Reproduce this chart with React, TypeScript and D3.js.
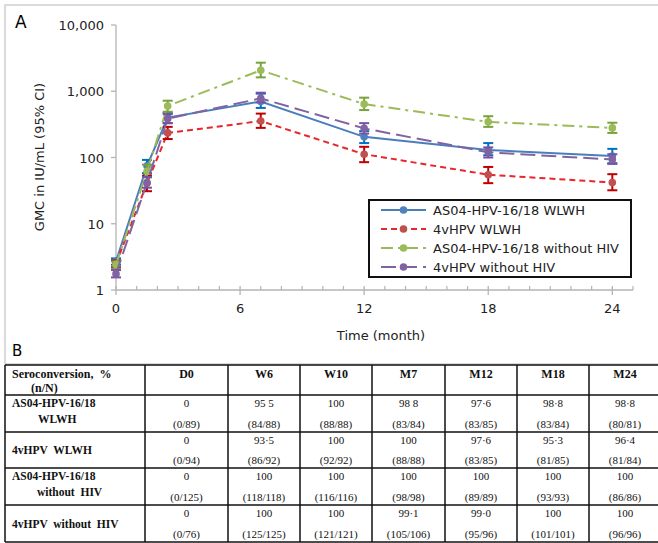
import React from "react";
import * as d3 from "d3";

// panel A: GMC by visit
const months = [0, 1.5, 2.5, 7, 12, 18, 24];
const seriesNames = [
  "AS04-HPV-16/18 WLWH",
  "4vHPV WLWH",
  "AS04-HPV-16/18 without HIV",
  "4vHPV without HIV",
];
const gmcAs04Wlwh = [2.7, 75, 400, 700, 205, 130, 105];
const lowAs04Wlwh = [2.4, 58, 330, 560, 165, 108, 82];
const highAs04Wlwh = [3.0, 92, 470, 920, 250, 165, 135];
const gmc4vWlwh = [2.5, 41, 235, 355, 112, 55, 42];
const low4vWlwh = [2.2, 31, 190, 280, 85, 41, 32];
const high4vWlwh = [2.8, 53, 290, 460, 145, 72, 56];
const gmcAs04Neg = [2.4, 62, 600, 2070, 640, 345, 280];
const lowAs04Neg = [2.1, 50, 490, 1620, 520, 290, 235];
const highAs04Neg = [2.7, 78, 720, 2700, 800, 420, 335];
const gmc4vNeg = [1.75, 42, 385, 780, 275, 120, 93];
const low4vNeg = [1.55, 35, 330, 680, 230, 100, 80];
const high4vNeg = [2.0, 51, 450, 950, 330, 142, 112];
const yTicks = [1, 10, 100, 1000, 10000];
const xTicks = [0, 6, 12, 18, 24];

// panel B: seroconversion table
const tableHeader = ["D0", "W6", "W10", "M7", "M12", "M18", "M24"];
const rowLabels = [
  ["AS04-HPV-16/18", "WLWH"],
  ["4vHPV \u00a0WLWH"],
  ["AS04-HPV-16/18", "without \u00a0HIV"],
  ["4vHPV \u00a0without \u00a0HIV"],
];
const pctAs04Wlwh = ["0", "95 5", "100", "98 8", "97·6", "98·8", "98·8"];
const nAs04Wlwh = ["(0/89)", "(84/88)", "(88/88)", "(83/84)", "(83/85)", "(83/84)", "(80/81)"];
const pct4vWlwh = ["0", "93·5", "100", "100", "97·6", "95·3", "96·4"];
const n4vWlwh = ["(0/94)", "(86/92)", "(92/92)", "(88/88)", "(83/85)", "(81/85)", "(81/84)"];
const pctAs04Neg = ["0", "100", "100", "100", "100", "100", "100"];
const nAs04Neg = ["(0/125)", "(118/118)", "(116/116)", "(98/98)", "(89/89)", "(93/93)", "(86/86)"];
const pct4vNeg = ["0", "100", "100", "99·1", "99·0", "100", "100"];
const n4vNeg = ["(0/76)", "(125/125)", "(121/121)", "(105/106)", "(95/96)", "(101/101)", "(96/96)"];

const series = [
  { name: seriesNames[0], gmc: gmcAs04Wlwh, low: lowAs04Wlwh, high: highAs04Wlwh, line: "#4a7ebb", marker: "#4f81bd", err: "#0070c0", dash: "none" },
  { name: seriesNames[1], gmc: gmc4vWlwh, low: low4vWlwh, high: high4vWlwh, line: "#e8262b", marker: "#c0504d", err: "#c00000", dash: "6,4" },
  { name: seriesNames[2], gmc: gmcAs04Neg, low: lowAs04Neg, high: highAs04Neg, line: "#9bbb59", marker: "#9bbb59", err: "#77a23c", dash: "12,5,3,5" },
  { name: seriesNames[3], gmc: gmc4vNeg, low: low4vNeg, high: high4vNeg, line: "#8064a2", marker: "#8064a2", err: "#7a4fa8", dash: "15,6" },
];
const tableRows = [
  { label: rowLabels[0], pct: pctAs04Wlwh, n: nAs04Wlwh },
  { label: rowLabels[1], pct: pct4vWlwh, n: n4vWlwh },
  { label: rowLabels[2], pct: pctAs04Neg, n: nAs04Neg },
  { label: rowLabels[3], pct: pct4vNeg, n: n4vNeg },
];

const sans = "DejaVu Sans";
const serif = "Liberation Serif";

export default function App() {
  const x = d3.scaleLinear().domain([0, 25]).range([116, 633]);
  const y = d3.scaleLog().domain([1, 10000]).range([290, 25]);
  const axisColor = "#b4b4b4";
  const y0 = y(1);

  const line = d3
    .line<number>()
    .x((_, i) => x(months[i]))
    .y((d) => y(d));

  // table geometry
  const colEdges = [5, 145, 228, 300, 372, 445, 517, 589, 661];
  const rowEdges = [365, 395, 432, 468, 505, 542];

  const minor = d3.range(1, 26).filter((m) => m % 6 !== 0);

  return (
    <svg
      width={658}
      height={543}
      style={{ position: "absolute", left: 0, top: 0, background: "#fff" }}
    >
      {/* panel A frame */}
      <rect x={5} y={5} width={680} height={359} fill="none" stroke="#cfcfcf" strokeWidth={1.5} />
      <text x={15} y={28} fontFamily={sans} fontSize={17}>A</text>

      {/* y axis */}
      <line x1={x(0)} x2={x(0)} y1={y(10000)} y2={y0} stroke={axisColor} strokeWidth={1.3} />
      {yTicks.map((t) => (
        <g key={t}>
          <line x1={x(0) - 5} x2={x(0)} y1={y(t)} y2={y(t)} stroke={axisColor} strokeWidth={1.3} />
          <text x={104} y={y(t) + 5} textAnchor="end" fontFamily={sans} fontSize={13} fill="#222">
            {d3.format(",")(t)}
          </text>
        </g>
      ))}
      <text
        transform={`translate(44,157) rotate(-90)`}
        textAnchor="middle"
        fontFamily={sans}
        fontSize={13}
        fill="#222"
      >
        GMC in IU/mL (95% CI)
      </text>

      {/* x axis */}
      <line x1={x(0)} x2={x(25)} y1={y0} y2={y0} stroke={axisColor} strokeWidth={1.3} />
      {minor.map((m) => (
        <line key={m} x1={x(m)} x2={x(m)} y1={y0 - 4} y2={y0} stroke={axisColor} strokeWidth={1.2} />
      ))}
      {xTicks.map((t) => (
        <g key={t}>
          <line x1={x(t)} x2={x(t)} y1={y0 - 4} y2={y0 + 5} stroke={axisColor} strokeWidth={1.3} />
          <text x={x(t)} y={313} textAnchor="middle" fontFamily={sans} fontSize={13} fill="#222">
            {t}
          </text>
        </g>
      ))}
      <text x={381} y={340} textAnchor="middle" fontFamily={sans} fontSize={13} fill="#222">
        Time (month)
      </text>

      {/* series */}
      {series.map((s) => (
        <g key={s.name}>
          <path d={line(s.gmc) || ""} fill="none" stroke={s.line} strokeWidth={2} strokeDasharray={s.dash} />
          {s.gmc.map((v, i) => (
            <g key={i} stroke={s.err} strokeWidth={2}>
              <line x1={x(months[i])} x2={x(months[i])} y1={y(s.low[i])} y2={y(s.high[i])} />
              <line x1={x(months[i]) - 5} x2={x(months[i]) + 5} y1={y(s.low[i])} y2={y(s.low[i])} />
              <line x1={x(months[i]) - 5} x2={x(months[i]) + 5} y1={y(s.high[i])} y2={y(s.high[i])} />
            </g>
          ))}
          {s.gmc.map((v, i) => (
            <circle key={i} cx={x(months[i])} cy={y(v)} r={3.8} fill={s.marker} />
          ))}
        </g>
      ))}

      {/* legend */}
      <rect x={369} y={200} width={262} height={77} fill="#fff" stroke="#111" strokeWidth={2} />
      {series.map((s, i) => {
        const ly = 210 + i * 19;
        return (
          <g key={s.name}>
            <line x1={381} x2={426} y1={ly} y2={ly} stroke={s.line} strokeWidth={2} strokeDasharray={s.dash} />
            <circle cx={403.5} cy={ly} r={3.8} fill={s.marker} />
            <text x={433} y={ly + 5} fontFamily={sans} fontSize={13} fill="#222">
              {s.name}
            </text>
          </g>
        );
      })}

      <text x={12} y={356} fontFamily={sans} fontSize={15}>B</text>

      {/* table */}
      <g fontFamily={serif} fill="#111">
        {rowEdges.map((ry, i) => (
          <line key={"h" + i} x1={colEdges[0]} x2={colEdges[colEdges.length - 1]} y1={ry} y2={ry} stroke="#111" strokeWidth={1.5} />
        ))}
        {colEdges.map((cx, i) => (
          <line key={"v" + i} x1={cx} x2={cx} y1={rowEdges[0]} y2={rowEdges[rowEdges.length - 1]} stroke="#111" strokeWidth={1.5} />
        ))}
        <text x={12} y={378} fontSize={12} fontWeight="bold">{"Seroconversion, \u00a0%"}</text>
        <text x={31} y={392} fontSize={12} fontWeight="bold">(n/N)</text>
        {tableHeader.map((h, j) => (
          <text key={h} x={(colEdges[j + 1] + colEdges[j + 2]) / 2} y={378} textAnchor="middle" fontSize={12} fontWeight="bold">
            {h}
          </text>
        ))}
        {tableRows.map((r, i) => {
          const top = rowEdges[i + 1];
          const bottom = rowEdges[i + 2];
          return (
            <g key={i}>
              {r.label.length === 1 ? (
                <text x={12} y={(top + bottom) / 2 + 4} fontSize={11.5} fontWeight="bold">{r.label[0]}</text>
              ) : (
                <>
                  <text x={12} y={top + 12} fontSize={11.5} fontWeight="bold">{r.label[0]}</text>
                  <text x={i === 0 ? 38 : 37} y={top + 28} fontSize={11.5} fontWeight="bold">{r.label[1]}</text>
                </>
              )}
              {r.pct.map((p, j) => (
                <text key={"p" + j} x={(colEdges[j + 1] + colEdges[j + 2]) / 2} y={top + 12} textAnchor="middle" fontSize={11}>
                  {p}
                </text>
              ))}
              {r.n.map((n, j) => (
                <text key={"n" + j} x={(colEdges[j + 1] + colEdges[j + 2]) / 2} y={bottom - 4} textAnchor="middle" fontSize={11}>
                  {n}
                </text>
              ))}
            </g>
          );
        })}
      </g>
    </svg>
  );
}
